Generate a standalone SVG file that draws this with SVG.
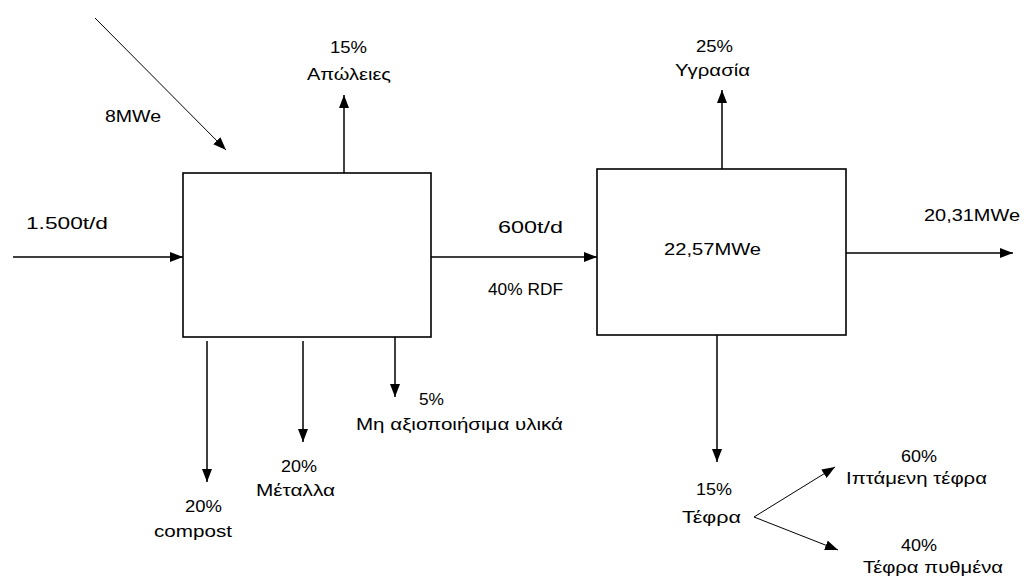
<svg xmlns="http://www.w3.org/2000/svg" width="1023" height="580" viewBox="0 0 1023 580">
<style>
.box{fill:#fff;stroke:#000;stroke-width:1.6}
.ln{fill:none;stroke:#000;stroke-width:1.5;marker-end:url(#ah)}
.thin{fill:none;stroke:#000;stroke-width:1;marker-end:url(#ah)}
text{font-family:"Liberation Sans",Arial,sans-serif;font-size:17px;fill:#000}
</style>
<defs>
<marker id="ah" markerUnits="userSpaceOnUse" markerWidth="13" markerHeight="10" refX="13" refY="5" orient="auto">
<path d="M0,0 L13,5 L0,10 z" fill="#000"/>
</marker>
</defs>
<rect width="1023" height="580" fill="#fff"/>
<g id="connectors">
<line class="ln" x1="13" y1="257" x2="183" y2="257"/>
<line class="thin" x1="95" y1="18" x2="226" y2="150"/>
<line class="ln" x1="344" y1="173" x2="344" y2="95"/>
<line class="ln" x1="431" y1="257" x2="597" y2="257"/>
<line class="ln" x1="722" y1="169" x2="722" y2="90"/>
<line class="ln" x1="846" y1="253" x2="1013" y2="253"/>
<line class="ln" x1="207" y1="341" x2="207" y2="482"/>
<line class="ln" x1="303" y1="341" x2="303" y2="442"/>
<line class="ln" x1="395" y1="337" x2="395" y2="397"/>
<line class="ln" x1="717" y1="335" x2="717" y2="462"/>
<line class="thin" x1="754" y1="517" x2="835" y2="467"/>
<line class="thin" x1="754" y1="517" x2="838" y2="550"/>
</g>
<g id="node-sorting">
<rect class="box" x="183" y="173" width="248" height="164"/>
</g>
<g id="node-combustion">
<rect class="box" x="597" y="169" width="249" height="166"/>
<text x="664" y="255" textLength="97" lengthAdjust="spacingAndGlyphs">22,57MWe</text>
</g>
<g id="labels">
<text x="330" y="53" textLength="37" lengthAdjust="spacingAndGlyphs">15%</text>
<text x="307" y="80" textLength="84" lengthAdjust="spacingAndGlyphs">Απώλειες</text>
<text x="105" y="122" textLength="56" lengthAdjust="spacingAndGlyphs">8MWe</text>
<text x="26" y="229" textLength="82" lengthAdjust="spacingAndGlyphs">1.500t/d</text>
<text x="696" y="52" textLength="37" lengthAdjust="spacingAndGlyphs">25%</text>
<text x="675" y="76" textLength="75" lengthAdjust="spacingAndGlyphs">Υγρασία</text>
<text x="924" y="221" textLength="96" lengthAdjust="spacingAndGlyphs">20,31MWe</text>
<text x="498" y="233" textLength="65" lengthAdjust="spacingAndGlyphs">600t/d</text>
<text x="488" y="295" textLength="75" lengthAdjust="spacingAndGlyphs">40% RDF</text>
<text x="185" y="512" textLength="37" lengthAdjust="spacingAndGlyphs">20%</text>
<text x="154" y="537" textLength="78" lengthAdjust="spacingAndGlyphs">compost</text>
<text x="281" y="472" textLength="36" lengthAdjust="spacingAndGlyphs">20%</text>
<text x="256" y="496" textLength="79" lengthAdjust="spacingAndGlyphs">Μέταλλα</text>
<text x="419" y="405" textLength="25" lengthAdjust="spacingAndGlyphs">5%</text>
<text x="356" y="430" textLength="207" lengthAdjust="spacingAndGlyphs">Μη αξιοποιήσιμα υλικά</text>
<text x="696" y="495" textLength="36" lengthAdjust="spacingAndGlyphs">15%</text>
<text x="682" y="523" textLength="59" lengthAdjust="spacingAndGlyphs">Τέφρα</text>
<text x="901" y="462" textLength="36" lengthAdjust="spacingAndGlyphs">60%</text>
<text x="846" y="484" textLength="141" lengthAdjust="spacingAndGlyphs">Ιπτάμενη τέφρα</text>
<text x="901" y="551" textLength="36" lengthAdjust="spacingAndGlyphs">40%</text>
<text x="863" y="573" textLength="140" lengthAdjust="spacingAndGlyphs">Τέφρα πυθμένα</text>
</g>
</svg>
